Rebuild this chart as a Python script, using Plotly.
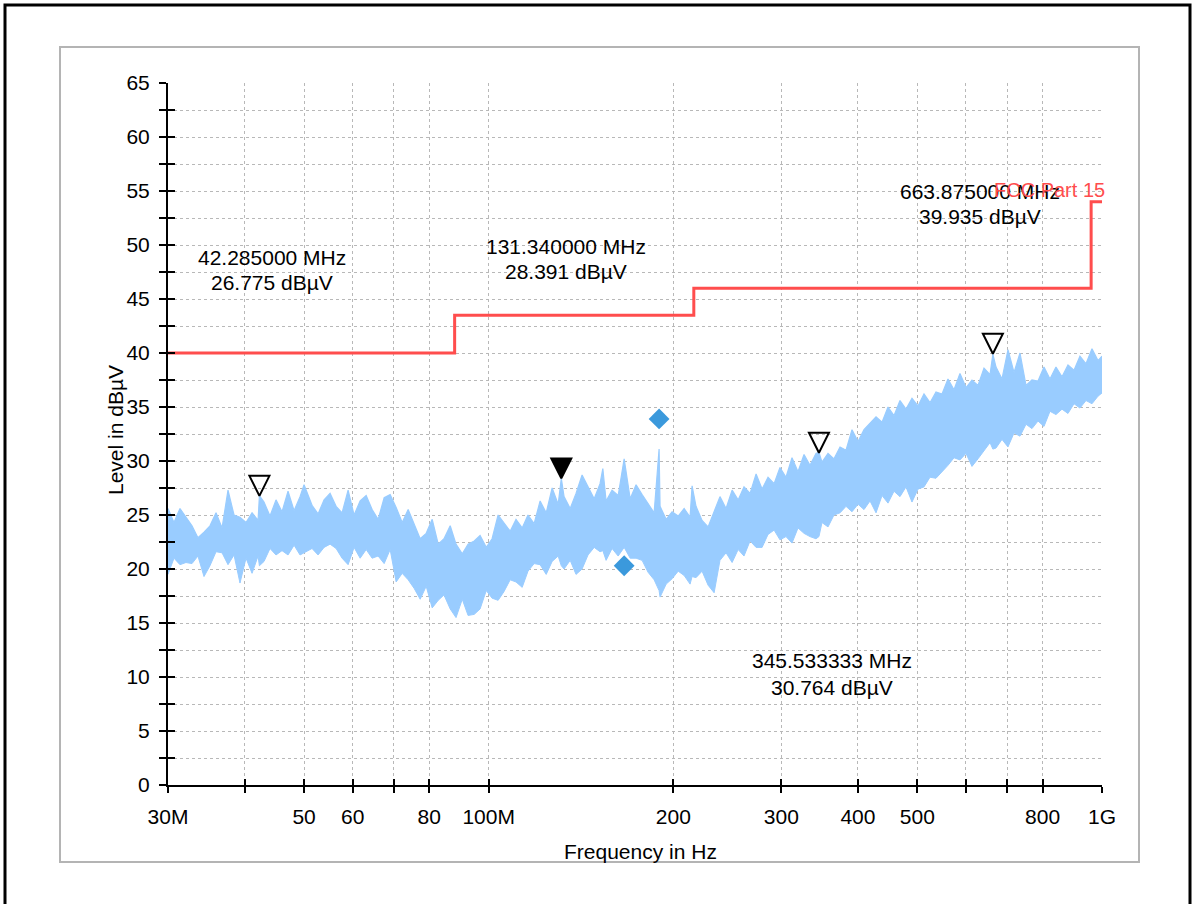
import math
import plotly.graph_objects as go

# ---------------- data (frequencies in MHz, levels in dBµV) ----------------
env_freq = [30.0, 30.68, 31.38, 32.09, 32.83, 33.57, 34.34, 35.12, 35.93, 36.75,
            37.58, 38.44, 39.31, 40.21, 41.13, 42.07, 42.285, 43.02, 44.0, 45.0,
            46.03, 47.08, 48.16, 49.25, 50.0, 51.52, 52.7, 53.9, 55.13, 56.39,
            57.67, 58.99, 60.33, 61.72, 63.13, 64.56, 66.03, 67.54, 69.08, 70.65,
            72.27, 73.91, 75.6, 77.32, 79.09, 80.89, 82.74, 84.55, 86.55, 88.46,
            90.55, 92.55, 94.72, 96.82, 99.09, 101.28, 103.6, 105.9, 108.4, 110.8,
            113.4, 115.9, 118.6, 121.3, 124.1, 126.9, 129.8, 131.34, 132.7, 135.8,
            138.8, 142.0, 145.2, 148.6, 151.9, 153.5, 155.4, 158.9, 162.6, 166.3,
            170.1, 173.9, 177.9, 181.9, 186.1, 189.6, 190.3, 194.7, 199.1, 203.7,
            208.3, 213.0, 214.6, 217.8, 222.8, 227.9, 233.1, 238.3, 243.8, 249.4,
            255.1, 260.8, 266.8, 272.9, 279.1, 285.4, 292.0, 298.5, 305.3, 312.3,
            319.4, 326.7, 334.1, 341.7, 345.533, 349.5, 357.5, 365.6, 374.0, 382.5,
            391.2, 400.1, 409.2, 418.6, 428.1, 437.9, 447.8, 458.0, 468.4, 479.1,
            490.0, 501.2, 512.6, 524.3, 536.2, 548.5, 560.9, 573.7, 586.7, 600.2,
            613.8, 627.8, 642.1, 656.8, 663.875, 671.7, 687.0, 702.6, 718.7, 735.0,
            751.8, 768.8, 786.4, 804.3, 822.6, 841.3, 860.6, 880.1, 900.2, 920.6,
            941.7, 963.1, 985.1, 1000.0]
env_upper = [25.6, 24.3, 25.6, 24.8, 24.0, 22.9, 23.4, 24.0, 25.2, 23.8,
             27.3, 25.0, 24.8, 24.3, 25.2, 24.5, 26.8, 26.2, 24.9, 26.4,
             25.3, 27.2, 25.4, 26.7, 27.8, 25.9, 25.1, 26.4, 27.0, 25.8,
             25.2, 27.3, 25.0, 26.3, 26.8, 25.5, 24.6, 26.6, 26.9, 25.7,
             24.3, 25.5, 24.2, 22.8, 23.3, 24.6, 22.3, 22.8, 24.0, 22.3,
             21.4, 22.3, 22.6, 23.1, 22.0, 22.8, 25.0, 24.3, 23.5, 24.6,
             23.8, 25.0, 24.2, 26.3, 25.2, 27.5, 26.0, 28.4, 26.7, 25.6,
             27.0, 28.7, 27.6, 26.5, 27.9, 29.3, 26.3, 27.3, 26.8, 30.2,
             26.5, 27.8, 26.9, 26.1, 25.2, 31.1, 25.8, 24.6, 25.3, 24.9,
             25.6, 24.8, 27.7, 25.8, 24.5, 23.9, 25.3, 26.7, 25.6, 27.3,
             26.4, 27.6, 27.0, 28.8, 27.4, 28.5, 27.9, 29.4, 28.5, 30.3,
             29.0, 30.6, 29.6, 30.7, 30.8, 29.9, 30.7, 30.2, 31.3, 31.0,
             32.9, 31.8, 32.9, 33.5, 34.1, 33.6, 35.0, 34.2, 35.6, 34.8,
             35.8, 35.1, 36.2, 35.4, 36.4, 36.2, 37.6, 36.6, 38.1, 36.8,
             37.5, 37.0, 38.6, 38.0, 39.9, 38.7, 37.6, 40.3, 38.2, 40.0,
             37.0, 37.5, 37.4, 38.7, 37.6, 38.7, 37.8, 38.9, 38.4, 39.7,
             39.0, 40.4, 39.3, 39.7]
env_lower = [19.5, 21.0, 20.4, 20.6, 20.5, 21.2, 19.3, 20.3, 21.6, 21.5,
             20.4, 21.3, 18.7, 21.0, 19.6, 21.2, 20.3, 20.7, 21.9, 21.3,
             21.7, 21.3, 22.2, 21.3, 21.5, 21.9, 21.3, 22.0, 22.3, 21.9,
             21.0, 20.4, 22.0, 21.0, 21.8, 21.0, 21.2, 20.5, 21.8, 18.8,
             19.6, 19.0, 18.2, 17.2, 18.4, 16.4, 17.1, 17.6, 16.3, 15.5,
             17.2, 15.7, 15.8, 16.3, 18.0, 17.3, 17.1, 17.9, 19.0, 18.8,
             18.3, 19.8, 20.5, 20.4, 19.5, 20.7, 21.2, 20.3, 20.0, 20.8,
             19.5, 20.0, 21.3, 22.0, 21.6, 21.7, 20.8, 21.9, 21.2, 22.0,
             21.0, 21.0, 20.8, 19.7, 19.0, 18.0, 17.4, 18.6, 19.1, 19.8,
             19.4, 18.6, 19.3, 19.2, 19.8, 18.5, 17.8, 20.8, 21.5, 20.6,
             21.8, 21.2, 22.6, 22.0, 22.0, 23.2, 23.6, 22.7, 23.0, 22.4,
             23.8, 23.3, 23.0, 22.8, 23.0, 24.3, 23.9, 25.0, 25.2, 25.8,
             25.3, 26.0, 25.5, 26.3, 25.2, 26.8, 26.1, 27.2, 26.7, 27.6,
             26.2, 27.4, 27.6, 28.5, 28.4, 29.0, 29.6, 30.3, 30.1, 30.7,
             29.5, 30.2, 31.0, 31.7, 31.1, 31.2, 32.0, 31.3, 32.6, 32.3,
             33.4, 33.0, 33.7, 33.2, 34.6, 34.3, 34.8, 34.4, 35.3, 34.9,
             35.6, 35.3, 36.0, 36.3]

limit_freq = [30, 88, 216, 960, 1000]
limit_level = [40, 43.5, 46, 54, 54]
limit_name = "FCC Part 15"

peak_freq = [42.285, 131.34, 345.533333, 663.875]
peak_level = [26.775, 28.391, 30.764, 39.935]
peak_filled = [False, True, False, False]

final_freq = [166.3, 189.6]
final_level = [20.3, 33.9]

x_tickvals = [30, 40, 50, 60, 70, 80, 100, 200, 300, 400, 500, 600, 700, 800, 1000]
x_ticktext = ["30M", "", "50", "60", "", "80", "100M", "200", "300", "400", "500",
              "", "", "800", "1G"]
y_tickvals = [i * 2.5 for i in range(27)]
y_ticktext = [str(int(v)) if v % 5 == 0 else "" for v in y_tickvals]

# ---------------- layout geometry (pixels) ----------------
W, H = 1194, 904
L, R, T, B = 168, 92, 83, 119
PW, PH = W - L - R, H - T - B


def px(x):
    return (x - L) / PW


def py(y):
    return (H - B - y) / PH


FONT = "Liberation Sans"
BLUE = "#99ccff"
RED = "#ff4d4d"

fig = go.Figure()

# spectrum envelope (filled band)
fig.add_trace(go.Scatter(x=env_freq, y=env_lower, mode="lines",
                         line=dict(color=BLUE, width=1), xaxis="x", yaxis="y"))
fig.add_trace(go.Scatter(x=env_freq, y=env_upper, mode="lines", fill="tonexty",
                         fillcolor=BLUE, line=dict(color=BLUE, width=1.2),
                         xaxis="x", yaxis="y"))
# limit line
fig.add_trace(go.Scatter(x=limit_freq, y=limit_level, mode="lines",
                         line=dict(color=RED, width=3, shape="hv"),
                         xaxis="x", yaxis="y"))
# final measurement diamonds
fig.add_trace(go.Scatter(x=final_freq, y=final_level, mode="markers",
                         marker=dict(symbol="diamond", size=16, color="#3b99dc"),
                         xaxis="x", yaxis="y2"))
# peak markers
fig.add_trace(go.Scatter(
    x=peak_freq, y=peak_level, mode="markers",
    marker=dict(symbol=["arrow-down" if f else "arrow-down-open" for f in peak_filled],
                size=20, color="black", line=dict(color="black", width=2)),
    xaxis="x2", yaxis="y"))

xr = [math.log10(30), math.log10(1000)]
common_x = dict(type="log", range=xr, tickmode="array", tickvals=x_tickvals)
common_y = dict(range=[0, 65], tickmode="array", tickvals=y_tickvals)

annotations = []
# label block centres (x, first line y, second line y) for each peak, in order
label_pos = [(272, 257, 282), (566, 246, 271), (832, 660, 687), (980, 191, 217)]
for f, lv, (cx, y1, y2) in zip(peak_freq, peak_level, label_pos):
    annotations.append(dict(text=f"{f:.6f} MHz", x=px(cx), y=py(y1), xref="paper",
                            yref="paper", showarrow=False, xanchor="center",
                            yanchor="middle", font=dict(family=FONT, size=21, color="black")))
    annotations.append(dict(text=f"{lv:.3f} dBµV", x=px(cx), y=py(y2), xref="paper",
                            yref="paper", showarrow=False, xanchor="center",
                            yanchor="middle", font=dict(family=FONT, size=21, color="black")))
annotations.append(dict(text=limit_name, x=px(1107), y=py(190), xref="paper", yref="paper",
                        showarrow=False, xanchor="right", yanchor="middle",
                        font=dict(family=FONT, size=20, color=RED)))
annotations.append(dict(text="Level in dBµV", x=px(115), y=py(430), xref="paper",
                        yref="paper", showarrow=False, textangle=-90, xanchor="center",
                        yanchor="middle", font=dict(family=FONT, size=21, color="black")))
annotations.append(dict(text="Frequency in Hz", x=px(640), y=py(851), xref="paper",
                        yref="paper", showarrow=False, xanchor="center", yanchor="middle",
                        font=dict(family=FONT, size=21, color="black")))

shapes = [
    dict(type="rect", xref="paper", yref="paper", x0=px(60), x1=px(1139), y0=py(862),
         y1=py(47), line=dict(color="#b4b4b4", width=2), layer="below"),
    dict(type="rect", xref="paper", yref="paper", x0=px(5), x1=px(1190), y0=py(908),
         y1=py(5), line=dict(color="black", width=3), layer="below"),
]

fig.update_layout(
    width=W, height=H, margin=dict(l=L, r=R, t=T, b=B, pad=0),
    paper_bgcolor="white", plot_bgcolor="white", showlegend=False,
    font=dict(family=FONT, size=21, color="black"),
    xaxis=dict(**common_x, ticktext=x_ticktext, ticks="outside", ticklen=6, tickwidth=2,
               tickcolor="black", showline=True, linecolor="black", linewidth=2,
               showgrid=True, gridcolor="#b8b8b8", griddash="dot", gridwidth=1,
               zeroline=False, tickfont=dict(family=FONT, size=21, color="black"),
               ticklabelstandoff=6),
    xaxis2=dict(**common_x, overlaying="x", anchor="y", side="bottom", ticks="inside",
                ticklen=6, tickwidth=2, tickcolor="black", showticklabels=False,
                showgrid=False, showline=False, zeroline=False),
    yaxis=dict(**common_y, ticktext=y_ticktext, ticks="outside", ticklen=7, tickwidth=2,
               tickcolor="black", showline=True, linecolor="black", linewidth=2,
               showgrid=True, gridcolor="#b8b8b8", griddash="dot", gridwidth=1,
               zeroline=False, tickfont=dict(family=FONT, size=21, color="black"),
               ticklabelstandoff=5),
    yaxis2=dict(**common_y, overlaying="y", anchor="x", side="left", ticks="inside",
                ticklen=7, tickwidth=2, tickcolor="black", showticklabels=False,
                showgrid=False, showline=False, zeroline=False),
    annotations=annotations, shapes=shapes,
)

fig.write_html("out.html", config={"displayModeBar": False},
               post_script="document.body.style.margin='0';document.body.style.overflow='hidden';")
